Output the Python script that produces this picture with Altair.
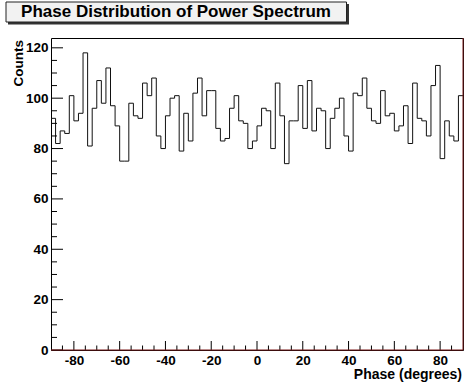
import altair as alt
import pandas as pd

# Histogram: 90 bins of 2 degrees from -90 to 90
x_min = -90
x_max = 90
bin_width = 2
counts = [92, 82, 87, 86, 101, 91, 94, 118, 81, 96,
          107, 98, 112, 97, 89, 75, 75, 98, 93, 92,
          106, 101, 108, 85, 80, 93, 100, 101, 79, 94,
          83, 102, 108, 93, 103, 103, 88, 83, 84, 96,
          101, 91, 90, 80, 83, 89, 96, 95, 80, 106,
          93, 74, 91, 91, 105, 88, 107, 87, 96, 95,
          80, 92, 96, 100, 85, 79, 102, 101, 108, 96,
          91, 90, 103, 93, 94, 87, 89, 97, 82, 106,
          92, 91, 85, 105, 113, 76, 91, 85, 83, 101]
y_max = 123.9

x_major = [-80, -60, -40, -20, 0, 20, 40, 60, 80]
x_minor = [v for v in range(-85, 90, 5) if v not in x_major]
y_major = [0, 20, 40, 60, 80, 100, 120]
y_minor = [v for v in range(5, 125, 5) if v not in y_major]

title_text = "Phase Distribution of Power Spectrum"
x_title = "Phase (degrees)"
y_title = "Counts"

W, H = 412, 312
FONT = "Liberation Sans"

left_edges = [x_min + bin_width * i for i in range(len(counts))]
hist_df = pd.DataFrame({"phase": left_edges + [x_max], "count": counts + [counts[-1]]})

xscale = alt.Scale(domain=[x_min, x_max], nice=False, zero=False)
yscale = alt.Scale(domain=[0, y_max], nice=False, zero=False)

x_axis = alt.Axis(values=x_major, ticks=False, domain=False, grid=False, title=None,
                  labelFont=FONT, labelFontWeight="bold", labelFontSize=13.5,
                  labelColor="black", labelPadding=3, labelFlush=False,
                  labelExpr="'' + datum.value")
y_axis = alt.Axis(values=y_major, ticks=False, domain=False, grid=False, title=None,
                  labelFont=FONT, labelFontWeight="bold", labelFontSize=13.5,
                  labelColor="black", labelPadding=3, labelFlush=False,
                  labelExpr="'' + datum.value")

line = alt.Chart(hist_df).mark_line(interpolate="step-after", color="#111111", strokeWidth=1).encode(
    x=alt.X("phase:Q", scale=xscale, axis=x_axis),
    y=alt.Y("count:Q", scale=yscale, axis=y_axis),
)

ymaj_df = pd.DataFrame({"count": y_major})
ymin_df = pd.DataFrame({"count": y_minor})
xmaj_df = pd.DataFrame({"phase": x_major})
xmin_df = pd.DataFrame({"phase": x_minor})

ymaj = alt.Chart(ymaj_df).mark_rule(color="black", strokeWidth=1).encode(
    y=alt.Y("count:Q", scale=yscale, axis=y_axis), x=alt.value(0), x2=alt.value(12))
ymin = alt.Chart(ymin_df).mark_rule(color="black", strokeWidth=1).encode(
    y=alt.Y("count:Q", scale=yscale, axis=y_axis), x=alt.value(0), x2=alt.value(6))
xmaj = alt.Chart(xmaj_df).mark_rule(color="black", strokeWidth=1).encode(
    x=alt.X("phase:Q", scale=xscale, axis=x_axis), y=alt.value(H), y2=alt.value(H - 9))
xmin = alt.Chart(xmin_df).mark_rule(color="black", strokeWidth=1).encode(
    x=alt.X("phase:Q", scale=xscale, axis=x_axis), y=alt.value(H), y2=alt.value(H - 4.5))

one = pd.DataFrame({"a": [0]})

bottom_line = alt.Chart(one).mark_rule(color="#7a1a1a", strokeWidth=1).encode(
    x=alt.value(0), x2=alt.value(W), y=alt.value(H))
right_line = alt.Chart(one).mark_rule(color="#7a1a1a", strokeWidth=1).encode(
    x=alt.value(W), y=alt.value(0), y2=alt.value(H))

shadow = alt.Chart(one).mark_rect(color="#333333").encode(
    x=alt.value(-43), x2=alt.value(298), y=alt.value(-34), y2=alt.value(-13.5))
box = alt.Chart(one).mark_rect(fill="#f2f2f2", stroke="#222222", strokeWidth=1).encode(
    x=alt.value(-45), x2=alt.value(295.5), y=alt.value(-36), y2=alt.value(-16))
title = alt.Chart(one).mark_text(text=title_text, font=FONT, fontWeight="bold", fontSize=17,
                                 align="center", baseline="alphabetic", color="black").encode(
    x=alt.value(125), y=alt.value(-20.7))

ytitle = alt.Chart(one).mark_text(text=y_title, font=FONT, fontWeight="bold", fontSize=13.5,
                                  align="right", baseline="middle", angle=270, color="black").encode(
    x=alt.value(-32), y=alt.value(2))
xtitle = alt.Chart(one).mark_text(text=x_title, font=FONT, fontWeight="bold", fontSize=14,
                                  align="right", baseline="middle", color="black").encode(
    x=alt.value(W - 1), y=alt.value(337))

chart = alt.layer(
    line, ymaj, ymin, xmaj, xmin, bottom_line, right_line, shadow, box, title, ytitle, xtitle
).properties(
    width=W, height=H,
    padding={"left": 51, "top": 38, "right": 2, "bottom": 40},
    autosize="none",
    background="white",
).configure_view(stroke="black", strokeWidth=1)

chart.save("out.html", embed_options={"renderer": "svg", "actions": False})
